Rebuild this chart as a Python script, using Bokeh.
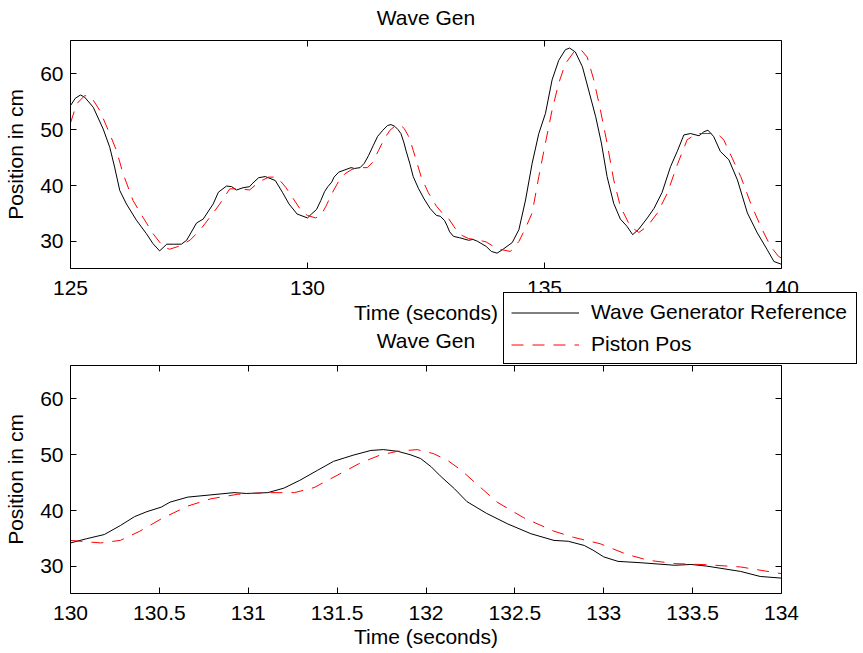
from bokeh.plotting import figure
from bokeh.models import (Range1d, FixedTicker, LinearAxis, Legend, LegendItem,
                          Label, NumeralTickFormatter, ColumnDataSource)
from bokeh.embed import file_html
from bokeh.resources import INLINE

# ---------------- data ----------------
t_ref = [125.00, 125.10, 125.21, 125.30, 125.48, 125.69, 125.83, 125.93, 126.04, 126.18,
         126.39, 126.60, 126.74, 126.88, 127.03, 127.17, 127.34, 127.45, 127.66, 127.80,
         128.01, 128.12, 128.29, 128.40, 128.50, 128.64, 128.78, 128.83, 128.97, 129.11,
         129.32, 129.47, 129.61, 129.78, 130.00, 130.09, 130.19, 130.28, 130.36, 130.43,
         130.51, 130.56, 130.66, 130.79, 130.92, 130.99, 131.11, 131.20, 131.29, 131.39,
         131.48, 131.54, 131.59, 131.69, 131.76, 131.84, 131.91, 131.97, 132.03, 132.08,
         132.16, 132.23, 132.34, 132.46, 132.59, 132.72, 132.80, 132.89, 132.94, 133.00,
         133.08, 133.21, 133.40, 133.49, 133.58, 133.77, 133.88, 134.00, 134.11, 134.32,
         134.46, 134.60, 134.74, 134.88, 135.02, 135.16, 135.30, 135.44, 135.53, 135.65,
         135.80, 135.93, 136.08, 136.20, 136.32, 136.46, 136.60, 136.74, 136.86, 136.99,
         137.17, 137.31, 137.48, 137.66, 137.80, 137.94, 138.08, 138.26, 138.36, 138.45,
         138.57, 138.71, 138.89, 139.07, 139.28, 139.49, 139.70, 139.84, 140.00]
wave_ref = [54.3, 55.6, 56.2, 55.8, 54.0, 50.1, 46.8, 43.3, 39.1, 36.7,
            33.8, 31.4, 29.6, 28.3, 29.5, 29.5, 29.5, 30.2, 33.3, 34.0,
            36.7, 38.8, 39.9, 39.8, 39.2, 39.6, 39.8, 40.3, 41.4, 41.6,
            40.9, 38.8, 36.7, 34.9, 34.2, 34.95, 35.7, 37.3, 38.9, 39.8,
            40.6, 41.5, 42.4, 42.8, 43.2, 43.05, 43.2, 44.0, 45.4, 47.2,
            48.8, 49.4, 49.9, 50.75, 50.9, 50.6, 50.0, 49.3, 47.8, 46.2,
            43.9, 41.6, 39.5, 37.6, 35.85, 34.65, 34.5, 33.75, 32.9, 31.7,
            30.9, 30.65, 30.2, 30.35, 30.05, 29.1, 28.2, 27.9, 28.5, 29.8,
            32.1, 37.4, 44.0, 49.3, 52.9, 58.9, 62.4, 64.3, 64.6, 63.9,
            61.25, 57.1, 52.3, 47.6, 41.6, 36.8, 34.0, 32.7, 31.2, 32.2,
            34.2, 35.9, 38.75, 43.4, 46.1, 49.05, 49.3, 48.9, 49.6, 49.9,
            48.75, 46.1, 44.6, 41.0, 35.1, 31.5, 28.5, 26.4, 25.9]

t_pis = [125.00, 125.13, 125.30, 125.44, 125.62, 125.83, 125.97, 126.11, 126.32, 126.53,
         126.74, 126.96, 127.09, 127.31, 127.52, 127.73, 127.94, 128.15, 128.36, 128.57,
         128.78, 128.97, 129.18, 129.36, 129.54, 129.68, 129.89, 130.00, 130.17, 130.28,
         130.39, 130.51, 130.66, 130.79, 130.94, 131.11, 131.26, 131.37, 131.50, 131.63,
         131.74, 131.84, 131.95, 132.04, 132.12, 132.19, 132.23, 132.40, 132.55, 132.72,
         132.83, 132.98, 133.13, 133.25, 133.40, 133.58, 133.77, 134.00, 134.28, 134.46,
         134.60, 134.74, 134.88, 135.02, 135.16, 135.30, 135.44, 135.62, 135.76, 135.90,
         136.04, 136.18, 136.32, 136.46, 136.60, 136.81, 136.99, 137.17, 137.38, 137.59,
         137.80, 138.01, 138.22, 138.43, 138.64, 138.78, 138.96, 139.14, 139.35, 139.56,
         139.77, 139.94, 140.00]
piston = [51.2, 54.6, 56.1, 55.8, 53.4, 49.2, 46.25, 42.1, 37.3, 34.3,
          31.4, 29.0, 28.6, 29.2, 30.2, 32.0, 34.3, 36.7, 39.4, 39.4,
          39.2, 40.6, 41.5, 41.5, 39.7, 37.9, 35.2, 34.65, 34.2, 34.65,
          36.3, 38.5, 40.8, 42.1, 42.9, 43.2, 43.2, 44.1, 46.3, 48.5,
          49.9, 50.6, 50.9, 50.2, 49.0, 47.4, 46.3, 41.5, 38.7, 36.3,
          35.2, 34.05, 32.15, 31.1, 30.5, 30.3, 29.9, 28.7, 28.2, 30.0,
          32.4, 35.1, 41.6, 47.6, 53.5, 58.3, 61.8, 63.9, 64.4, 63.0,
          58.9, 53.5, 47.6, 41.0, 36.25, 32.7, 31.6, 32.7, 35.05, 38.6,
          43.7, 48.2, 49.3, 49.3, 49.3, 48.2, 44.9, 41.6, 36.8, 32.7,
          29.1, 27.3, 27.0]

y_ticks = [30, 40, 50, 60]
top_x_ticks = [125, 130, 135, 140]
bot_x_ticks = [130, 130.5, 131, 131.5, 132, 132.5, 133, 133.5, 134]
TOP_XR = (125, 140)
BOT_XR = (130, 134)
YLO, YHI = 25.15, 65.95

# ---------------- layout constants (canvas pixels) ----------------
W, H = 860, 651
BOX_L, BOX_R = 70, 781                  # both subplot boxes share these columns
TOP_T, TOP_B = 40, 268                  # upper subplot box
BOT_T, BOT_B = 365, 593                 # lower subplot box
SY = (TOP_B - TOP_T) / (YHI - YLO)      # px per cm
SX_TOP = (BOX_R - BOX_L) / (TOP_XR[1] - TOP_XR[0])
SX_BOT = (BOX_R - BOX_L) / (BOT_XR[1] - BOT_XR[0])

FONT = "Liberation Sans"
FS = "21px"

p = figure(width=W, height=H,
           x_range=Range1d(BOT_XR[0] - BOX_L / SX_BOT, BOT_XR[0] + (W - BOX_L) / SX_BOT),
           y_range=Range1d(YLO - (H - BOT_B) / SY, YHI + BOT_T / SY),
           x_axis_type=None, y_axis_type=None,
           output_backend="svg", toolbar_location=None,
           min_border=0, min_border_left=0, min_border_right=0,
           min_border_top=0, min_border_bottom=0)
p.extra_x_ranges = {"top": Range1d(TOP_XR[0] - BOX_L / SX_TOP, TOP_XR[0] + (W - BOX_L) / SX_TOP)}
p.extra_y_ranges = {"top": Range1d(YLO - (H - TOP_B) / SY, YHI + TOP_T / SY)}
p.outline_line_color = None
p.background_fill_color = "white"
p.border_fill_color = "white"


def style(ax):
    ax.axis_line_color = "black"
    ax.axis_line_width = 1
    ax.major_tick_in = 6
    ax.major_tick_out = 0
    ax.minor_tick_in = 6
    ax.minor_tick_out = 0
    ax.major_tick_line_color = "black"
    ax.minor_tick_line_color = "black"
    ax.major_label_text_font = FONT
    ax.major_label_text_font_size = FS
    ax.major_label_text_color = "black"
    ax.axis_label_text_font = FONT
    ax.axis_label_text_font_size = FS
    ax.axis_label_text_font_style = "normal"
    ax.axis_label_text_color = "black"
    return ax


def box_axes(xname, yname, xr, xticks, x_standoff, xl_standoff):
    # bottom x axis with labels
    bx = style(LinearAxis(ticker=FixedTicker(ticks=xticks), fixed_location=YLO,
                          x_range_name=xname, y_range_name=yname, bounds=xr,
                          axis_label="Time (seconds)",
                          formatter=NumeralTickFormatter(format="0.[0]")))
    bx.major_label_standoff = x_standoff
    bx.axis_label_standoff = xl_standoff
    p.add_layout(bx, "below")
    # top x axis, ticks only
    tx = style(LinearAxis(ticker=FixedTicker(ticks=[], minor_ticks=xticks), fixed_location=YHI,
                          x_range_name=xname, y_range_name=yname, bounds=xr))
    p.add_layout(tx, "above")
    # left y axis with labels
    ly = style(LinearAxis(ticker=FixedTicker(ticks=y_ticks), fixed_location=xr[0],
                          x_range_name=xname, y_range_name=yname, bounds=(YLO, YHI),
                          axis_label="Position in cm"))
    ly.major_label_standoff = 7
    ly.axis_label_standoff = 10
    p.add_layout(ly, "left")
    # right y axis, ticks only
    ry = style(LinearAxis(ticker=FixedTicker(ticks=[], minor_ticks=y_ticks), fixed_location=xr[1],
                          x_range_name=xname, y_range_name=yname, bounds=(YLO, YHI)))
    p.add_layout(ry, "right")


box_axes("top", "top", TOP_XR, top_x_ticks, 12, 3)
box_axes("default", "default", BOT_XR, bot_x_ticks, 12, 2)

# upper subplot: full records
src_ref = ColumnDataSource(dict(t=t_ref, v=wave_ref))
src_pis = ColumnDataSource(dict(t=t_pis, v=piston))
# lower subplot: the same records, limited to its time window
in_win = lambda t: BOT_XR[0] <= t <= BOT_XR[1]
src_ref_b = ColumnDataSource(dict(t=[t for t in t_ref if in_win(t)],
                                  v=[v for t, v in zip(t_ref, wave_ref) if in_win(t)]))
src_pis_b = ColumnDataSource(dict(t=[t for t in t_pis if in_win(t)],
                                  v=[v for t, v in zip(t_pis, piston) if in_win(t)]))

r1 = p.line("t", "v", source=src_ref, line_color="black", line_width=1,
            x_range_name="top", y_range_name="top")
r2 = p.line("t", "v", source=src_pis, line_color="red", line_width=1, line_dash="12 9",
            x_range_name="top", y_range_name="top")
p.line("t", "v", source=src_ref_b, line_color="black", line_width=1)
p.line("t", "v", source=src_pis_b, line_color="red", line_width=1, line_dash="12 9")

# subplot titles
p.add_layout(Label(x=sum(TOP_XR) / 2, y=YHI + (TOP_T - 16.5) / SY,
                   x_range_name="top", y_range_name="top",
                   text="Wave Gen", text_align="center", text_baseline="alphabetic",
                   text_font=FONT, text_font_size=FS, text_color="black"))
p.add_layout(Label(x=sum(BOT_XR) / 2, y=YHI + (BOT_T - 339.5) / SY,
                   text="Wave Gen", text_align="center", text_baseline="alphabetic",
                   text_font=FONT, text_font_size=FS, text_color="black"))

legend = Legend(items=[LegendItem(label="Wave Generator Reference", renderers=[r1]),
                       LegendItem(label="Piston Pos", renderers=[r2])],
                location=(503, H - 364), orientation="vertical",
                label_text_font=FONT, label_text_font_size=FS, label_text_color="black",
                border_line_color="black", border_line_width=1, border_line_alpha=1.0,
                background_fill_color="white", background_fill_alpha=1.0,
                padding=7, margin=0, spacing=8, glyph_width=68, glyph_height=23,
                label_height=23, label_standoff=12, label_width=258)
p.add_layout(legend, "center")

open("out.html", "w").write(file_html(p, INLINE))
